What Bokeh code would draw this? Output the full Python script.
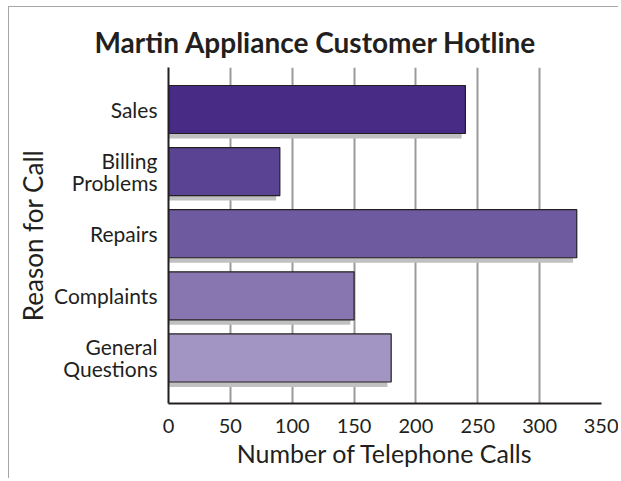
from bokeh.plotting import figure
from bokeh.models import ColumnDataSource, Range1d, FixedTicker, Title
from bokeh.transform import dodge
from bokeh.embed import file_html
from bokeh.resources import INLINE

categories = ["Sales", "Billing\nProblems", "Repairs", "Complaints", "General\nQuestions"]
calls = [240, 90, 330, 150, 180]
colors = ["#472b84", "#5b4394", "#6e5a9f", "#8776b0", "#a295c3"]
positions = [5, 4, 3, 2, 1]
x_ticks = [0, 50, 100, 150, 200, 250, 300, 350]
title_text = "Martin Appliance Customer Hotline"

FONT = "Lato"
TXT = "#231f20"

src = ColumnDataSource(dict(pos=positions, calls=calls, color=colors, cat=categories))

p = figure(width=610, height=472, output_backend="svg", toolbar_location=None,
           x_range=Range1d(0, 350), y_range=Range1d(0.267, 5.676),
           min_border_left=159, min_border_right=18, min_border_top=60, min_border_bottom=76)
p.styles = {"border-top": "1px solid #a6a6a6", "border-left": "1px solid #a6a6a6",
            "margin-left": "8px", "margin-top": "6px"}

p.outline_line_color = None
p.background_fill_color = "white"
p.border_fill_color = "white"

# grid
p.xgrid.ticker = FixedTicker(ticks=x_ticks)
p.xgrid.grid_line_color = "#9a9a9a"
p.xgrid.grid_line_width = 2
p.ygrid.grid_line_color = None

# shadows
p.hbar(y=dodge("pos", -0.08), left=-3, right=dodge("calls", -3), height=0.773,
       source=src, fill_color="#c0c0c0", line_color=None)
# bars
p.hbar(y="pos", left=0, right="calls", height=0.773, source=src,
       fill_color="color", line_color=TXT, line_width=1.2)

title = Title(text=title_text, align="left", offset=-74, standoff=14,
              vertical_align="top",
              text_font=FONT, text_font_size="28px", text_font_style="bold",
              text_color=TXT)
p.add_layout(title, "above")

xa = p.xaxis[0]
xa.ticker = FixedTicker(ticks=x_ticks)
xa.axis_line_color = TXT
xa.axis_line_width = 2
xa.major_tick_line_color = None
xa.minor_tick_line_color = None
xa.major_label_text_font = FONT
xa.major_label_text_font_size = "20px"
xa.major_label_text_color = TXT
xa.major_label_standoff = 9
xa.axis_label = "Number of Telephone Calls"
xa.axis_label_text_font = FONT
xa.axis_label_text_font_size = "25px"
xa.axis_label_text_font_style = "normal"
xa.axis_label_text_color = TXT
xa.axis_label_standoff = 2

ya = p.yaxis[0]
ya.ticker = FixedTicker(ticks=positions)
ya.major_label_overrides = {pos: c for pos, c in zip(positions, categories)}
ya.axis_line_color = TXT
ya.axis_line_width = 2
ya.major_tick_line_color = None
ya.minor_tick_line_color = None
ya.major_label_text_font = FONT
ya.major_label_text_font_size = "21px"
ya.major_label_text_line_height = 0.88
ya.major_label_text_color = TXT
ya.major_label_standoff = 5
ya.axis_label = "Reason for Call"
ya.axis_label_text_font = FONT
ya.axis_label_text_font_size = "26px"
ya.axis_label_text_font_style = "normal"
ya.axis_label_text_color = TXT
ya.axis_label_standoff = 2

open("out.html", "w").write(file_html(p, INLINE))
